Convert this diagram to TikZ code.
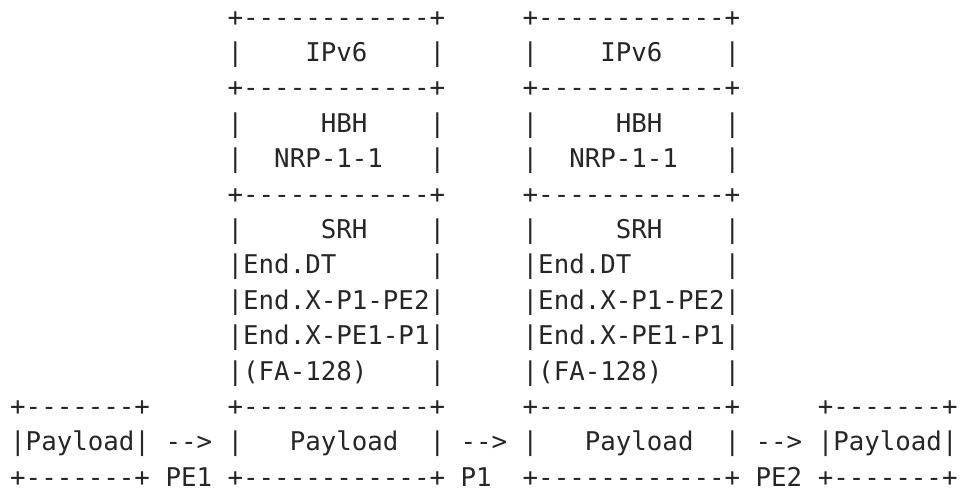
\documentclass[tikz,border=0pt]{standalone}
\usepackage{fontspec}
\setmonofont{DejaVu Sans Mono}
\frenchspacing

% one character cell: 15.53pt wide, one text line: 35.4pt high
\newcommand\asciicell[4]{%
  \node[cell] (#1) at ({10.2+#2*15.53},{26+#3*35.4}) {#4};}

% a header stack: IPv6 / HBH / SRH / Payload
\newcommand\headerstack[2]{%
  \asciicell{#1-0}{#2}{0}{+------------+}
  \asciicell{#1-1}{#2}{1}{|~~~~IPv6~~~~|}
  \asciicell{#1-2}{#2}{2}{+------------+}
  \asciicell{#1-3}{#2}{3}{|~~~~~HBH~~~~|}
  \asciicell{#1-4}{#2}{4}{|~~NRP-1-1~~~|}
  \asciicell{#1-5}{#2}{5}{+------------+}
  \asciicell{#1-6}{#2}{6}{|~~~~~SRH~~~~|}
  \asciicell{#1-7}{#2}{7}{|End.DT~~~~~~|}
  \asciicell{#1-8}{#2}{8}{|End.X-P1-PE2|}
  \asciicell{#1-9}{#2}{9}{|End.X-PE1-P1|}
  \asciicell{#1-10}{#2}{10}{|(FA-128)~~~~|}
  \asciicell{#1-11}{#2}{11}{+------------+}
  \asciicell{#1-12}{#2}{12}{|~~~Payload~~|}
  \asciicell{#1-13}{#2}{13}{+------------+}}

% a bare payload
\newcommand\payloadbox[2]{%
  \asciicell{#1-top}{#2}{11}{+-------+}
  \asciicell{#1-mid}{#2}{12}{|Payload|}
  \asciicell{#1-bot}{#2}{13}{+-------+}}

\begin{document}
\begin{tikzpicture}[x=1pt,y=-1pt,
  cell/.style={anchor=base west,inner sep=0pt,outer sep=0pt,text=black!85,
    font=\ttfamily\fontsize{25.8}{30}\selectfont}]
\useasboundingbox (0,0) rectangle (960,491);

\payloadbox{src}{0}
\headerstack{hopA}{14}
\headerstack{hopB}{33}
\payloadbox{dst}{52}

% forwarding arrows and the nodes passed
\asciicell{arrA}{10}{12}{-->}
\asciicell{arrB}{29}{12}{-->}
\asciicell{arrC}{48}{12}{-->}
\asciicell{pe1}{10}{13}{PE1}
\asciicell{p1}{29}{13}{P1}
\asciicell{pe2}{48}{13}{PE2}
\end{tikzpicture}
\end{document}
